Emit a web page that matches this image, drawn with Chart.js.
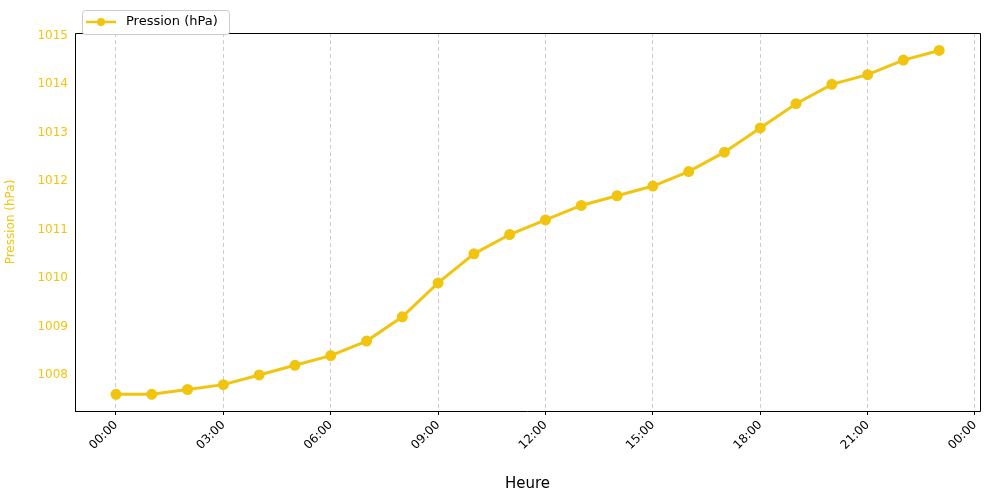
<!DOCTYPE html>
<html><head><meta charset="utf-8">
<script src="https://cdn.jsdelivr.net/npm/chart.js@4"></script>
<style>body{margin:0;background:#fff}</style></head>
<body><canvas id="c" width="989" height="493"></canvas>
<script>
const hours=[0,1,2,3,4,5,6,7,8,9,10,11,12,13,14,15,16,17,18,19,20,21,22,23];
const pressure=[1007.6,1007.6,1007.7,1007.8,1008.0,1008.2,1008.4,1008.7,1009.2,1009.9,1010.5,1010.9,1011.2,1011.5,1011.7,1011.9,1012.2,1012.6,1013.1,1013.6,1014.0,1014.2,1014.5,1014.7];
const seriesLabel='Pression (hPa)';
const yTicks=[1008,1009,1010,1011,1012,1013,1014,1015];
const col='#f1c40f';
const F='DejaVu Sans';
const frame={id:'frame',afterDraw(ch){const a=ch.chartArea,c=ch.ctx;c.save();
c.strokeStyle='#000';c.lineWidth=1;c.beginPath();c.moveTo(a.left+0.5,a.bottom+0.5);c.lineTo(a.left+0.5,a.top+0.5);c.lineTo(a.right+0.5,a.top+0.5);c.lineTo(a.right+0.5,a.bottom+0.5);c.lineTo(a.left,a.bottom+0.5);c.stroke();
c.fillStyle='#fff';c.strokeStyle='#ccc';c.beginPath();c.roundRect(82.5,10.5,147,24,3);c.fill();c.stroke();
c.strokeStyle=col;c.lineWidth=2.5;c.beginPath();c.moveTo(86,22);c.lineTo(116,22);c.stroke();
c.fillStyle=col;c.beginPath();c.arc(101,22,4,0,Math.PI*2);c.fill();
c.fillStyle='#000';c.font='13px '+F;c.textBaseline='middle';c.fillText(seriesLabel,126,22);
c.restore();}};
new Chart(document.getElementById('c'),{type:'line',
data:{datasets:[{label:seriesLabel,data:hours.map((h,i)=>({x:h,y:pressure[i]})),borderColor:col,backgroundColor:col,borderWidth:3,pointRadius:4,pointHoverRadius:4,tension:0}]},
options:{responsive:false,animation:false,layout:{padding:{top:33,right:9}},
plugins:{legend:{display:false},tooltip:{enabled:false}},
scales:{
x:{type:'linear',min:-1.145,max:24.14,afterBuildTicks(s){s.ticks=[0,3,6,9,12,15,18,21,24].map(v=>({value:v}));},
afterFit(s){s.height=82;},
ticks:{maxRotation:45,minRotation:45,color:'#000',font:{family:F,size:12},callback:v=>String(v%24).padStart(2,'0')+':00'},
grid:{color:'#ccc',drawTicks:true,tickColor:'#000',tickLength:4},border:{display:false,dash:[4,3]},
title:{display:true,text:'Heure',color:'#000',font:{family:F,size:15},padding:{top:-6,bottom:0}}},
y:{min:1007.256,max:1015.06,afterBuildTicks(s){s.ticks=yTicks.map(v=>({value:v}));},
afterFit(s){s.width=75;},
ticks:{color:col,font:{family:F,size:12},callback:v=>String(v)},
grid:{display:false,drawOnChartArea:false,tickLength:4},border:{display:false},
title:{display:true,text:seriesLabel,color:col,font:{family:F,size:12}}}}},
plugins:[frame]});
</script></body></html>
